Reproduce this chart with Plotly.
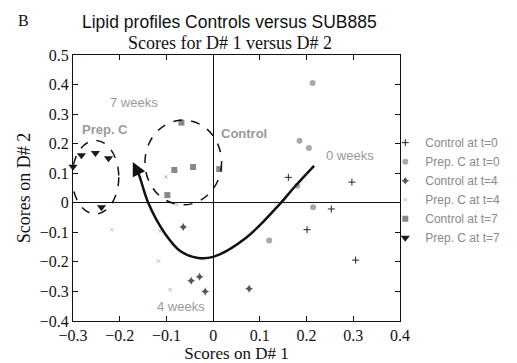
import plotly.graph_objects as go

# Score coordinates (D# 1, D# 2) per group and time point
ctrl_t0_x = [0.161, 0.297, 0.253, 0.201, 0.305]
ctrl_t0_y = [0.086, 0.070, -0.021, -0.091, -0.194]

prepc_t0_x = [0.213, 0.185, 0.205, 0.180, 0.214, 0.120]
prepc_t0_y = [0.405, 0.210, 0.185, 0.058, -0.015, -0.128]

ctrl_t4_x = [-0.064, -0.047, -0.029, -0.017, 0.077]
ctrl_t4_y = [-0.082, -0.264, -0.250, -0.300, -0.291]

prepc_t4_x = [-0.217, -0.114, -0.117, -0.092, -0.078, -0.101, -0.023]
prepc_t4_y = [-0.091, -0.095, -0.197, -0.294, -0.006, 0.087, -0.190]

ctrl_t7_x = [-0.068, -0.083, -0.043, 0.013, -0.098]
ctrl_t7_y = [0.271, 0.111, 0.121, 0.114, 0.026]

prepc_t7_x = [-0.300, -0.282, -0.252, -0.224, -0.239]
prepc_t7_y = [0.122, 0.161, 0.168, 0.151, -0.015]

# Time-course trajectory (0 weeks -> 4 weeks -> 7 weeks)
path_x = [0.216, 0.175, 0.145, 0.070, 0.0, -0.035, -0.069, -0.104, -0.139, -0.160, -0.170]
path_y = [0.125, 0.055, 0.0, -0.119, -0.183, -0.186, -0.165, -0.102, 0.0, 0.100, 0.130]
arrow_tip = (-0.172, 0.138)

# Group ellipses: (x0, x1, y0, y1)
prepc_ellipse = (-0.302, -0.202, -0.038, 0.211)
ctrl_ellipse = (-0.146, 0.018, -0.007, 0.280)

x_ticks = [-0.3, -0.2, -0.1, 0, 0.1, 0.2, 0.3, 0.4]
y_ticks = [-0.4, -0.3, -0.2, -0.1, 0, 0.1, 0.2, 0.3, 0.4, 0.5]

SERIF = "Liberation Serif"
SANS = "Liberation Sans"
GREY_TXT = "#9a9a9a"

fig = go.Figure()

series = [
    ("Control at t=0", ctrl_t0_x, ctrl_t0_y, dict(symbol="cross-thin", size=5, color="#222",
                                                   line=dict(width=1, color="#222"))),
    ("Prep. C at t=0", prepc_t0_x, prepc_t0_y, dict(symbol="circle", size=6, color="#a8a8a8")),
    ("Control at t=4", ctrl_t4_x, ctrl_t4_y, dict(symbol="star-diamond", size=6, color="#555")),
    ("Prep. C at t=4", prepc_t4_x, prepc_t4_y, dict(symbol="x-thin", size=3.5, color="#bbb",
                                                     line=dict(width=1, color="#bbb"))),
    ("Control at t=7", ctrl_t7_x, ctrl_t7_y, dict(symbol="square", size=6, color="#888")),
    ("Prep. C at t=7", prepc_t7_x, prepc_t7_y, dict(symbol="triangle-down", size=8, color="#1a1a1a")),
]
for name, xs, ys, mk in series:
    fig.add_trace(go.Scatter(x=xs, y=ys, mode="markers", name=name, marker=mk, cliponaxis=False))

fig.add_trace(go.Scatter(x=path_x, y=path_y, mode="lines", showlegend=False,
                         line=dict(color="#111", width=2.5, shape="spline", smoothing=1.0),
                         hoverinfo="skip"))

fig.add_annotation(x=arrow_tip[0], y=arrow_tip[1], ax=path_x[-2], ay=path_y[-2],
                   xref="x", yref="y", axref="x", ayref="y", text="", showarrow=True,
                   arrowhead=2, arrowsize=1.1, arrowwidth=2.5, arrowcolor="#111")

for e in (prepc_ellipse, ctrl_ellipse):
    fig.add_shape(type="circle", xref="x", yref="y", x0=e[0], x1=e[1], y0=e[2], y1=e[3],
                  line=dict(color="#111", width=1.5, dash="dash"))

# In-plot labels
labels = [
    ("Prep. C", -0.231, 0.247, True),
    ("Control", 0.066, 0.233, True),
    ("7 weeks", -0.170, 0.338, False),
    ("0 weeks", 0.294, 0.159, False),
    ("4 weeks", -0.068, -0.351, False),
]
for txt, x, y, bold in labels:
    fig.add_annotation(x=x, y=y, xref="x", yref="y", showarrow=False,
                       text=f"<b>{txt}</b>" if bold else txt,
                       font=dict(family=SANS, size=13, color=GREY_TXT))

# Titles
fig.add_annotation(text="B", x=-0.175, y=1.17, xref="paper", yref="paper", showarrow=False,
                   font=dict(family=SERIF, size=16, color="#111"))
fig.add_annotation(text="Lipid profiles Controls versus SUB885", x=0.48, y=1.17,
                   xref="paper", yref="paper", showarrow=False,
                   font=dict(family=SANS, size=17.5, color="#111"))
fig.add_annotation(text="Scores for D# 1 versus D# 2", x=0.48, y=1.0, yanchor="bottom",
                   xref="paper", yref="paper", showarrow=False,
                   font=dict(family=SERIF, size=18, color="#111"))

axis_common = dict(showline=True, linecolor="#111", linewidth=1, mirror="ticks",
                   ticks="inside", ticklen=5, tickcolor="#111", showgrid=False,
                   zeroline=True, zerolinecolor="#111", zerolinewidth=1.3,
                   automargin=False,
                   tickfont=dict(family=SERIF, size=16, color="#111"))

fig.update_xaxes(range=[-0.3, 0.4], tickvals=x_ticks,
                 title=dict(text="Scores on D# 1", font=dict(family=SERIF, size=17, color="#111"),
                            standoff=8),
                 **axis_common)
fig.update_yaxes(range=[-0.4, 0.5], tickvals=y_ticks,
                 title=dict(text="Scores on D# 2", font=dict(family=SERIF, size=18, color="#111"),
                            standoff=4),
                 **axis_common)

fig.update_layout(
    width=517, height=363,
    margin=dict(l=73, r=109, t=55, b=42),
    plot_bgcolor="white", paper_bgcolor="white",
    showlegend=True,
    legend=dict(x=0.955, y=0.725, xanchor="left", yanchor="top",
                font=dict(family=SANS, size=12, color="#8a8a8a"),
                bgcolor="rgba(0,0,0,0)", itemwidth=30),
)

fig.write_html("out.html")
